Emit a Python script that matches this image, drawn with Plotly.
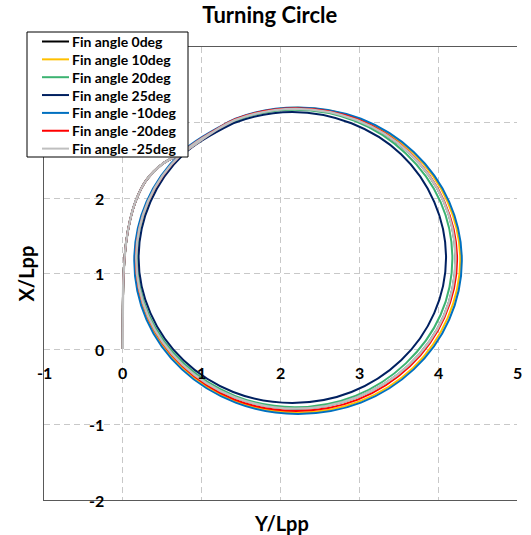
import plotly.graph_objects as go

# Shared initial (approach) path: Y/Lpp (horizontal), X/Lpp (vertical)
INIT_Y = [0.0, 0.0, 0.01, 0.04, 0.09, 0.17, 0.30, 0.50, 0.76]
INIT_X = [0.0, 0.5, 1.0, 1.40, 1.70, 1.98, 2.24, 2.45, 2.60]

# Loop points for each fin angle
FIN0_Y = [1.42, 2.195, 2.97, 3.63, 4.07, 4.22, 4.07, 3.63, 2.97, 2.195, 1.42, 0.76, 0.32, 0.17, 0.32, 0.76, 1.42]
FIN0_X = [3.03, 3.18, 3.03, 2.60, 1.955, 1.195, 0.435, -0.21, -0.64, -0.79, -0.64, -0.21, 0.435, 1.195, 1.955, 2.60, 3.03]

FIN10_Y = [1.43, 2.22, 3.01, 3.68, 4.12, 4.28, 4.12, 3.68, 3.01, 2.22, 1.43, 0.76, 0.31, 0.155, 0.31, 0.76, 1.43]
FIN10_X = [3.04, 3.195, 3.04, 2.60, 1.95, 1.18, 0.41, -0.25, -0.69, -0.84, -0.69, -0.25, 0.41, 1.18, 1.95, 2.60, 3.04]

FIN20_Y = [1.42, 2.18, 2.95, 3.59, 4.03, 4.18, 4.03, 3.59, 2.95, 2.18, 1.42, 0.77, 0.33, 0.18, 0.33, 0.77, 1.42]
FIN20_X = [3.02, 3.17, 3.02, 2.59, 1.95, 1.20, 0.45, -0.19, -0.62, -0.77, -0.62, -0.19, 0.45, 1.20, 1.95, 2.59, 3.02]

FIN25_Y = [1.40, 2.15, 2.90, 3.53, 3.95, 4.10, 3.95, 3.53, 2.90, 2.15, 1.40, 0.77, 0.35, 0.20, 0.35, 0.77, 1.40]
FIN25_X = [2.99, 3.14, 2.99, 2.58, 1.95, 1.21, 0.475, -0.15, -0.57, -0.715, -0.57, -0.15, 0.475, 1.21, 1.95, 2.58, 2.99]

FINM10_Y = [1.43, 2.22, 3.02, 3.69, 4.14, 4.30, 4.14, 3.69, 3.02, 2.22, 1.43, 0.75, 0.30, 0.145, 0.30, 0.75, 1.43]
FINM10_X = [3.05, 3.20, 3.05, 2.61, 1.95, 1.17, 0.39, -0.27, -0.71, -0.86, -0.71, -0.27, 0.39, 1.17, 1.95, 2.61, 3.05]

FINM20_Y = [1.42, 2.20, 2.98, 3.64, 4.08, 4.24, 4.08, 3.64, 2.98, 2.20, 1.42, 0.76, 0.32, 0.165, 0.32, 0.76, 1.42]
FINM20_X = [3.04, 3.19, 3.04, 2.60, 1.95, 1.185, 0.42, -0.23, -0.67, -0.82, -0.67, -0.23, 0.42, 1.185, 1.95, 2.60, 3.04]

FINM25_Y = [1.42, 2.195, 2.97, 3.63, 4.07, 4.22, 4.07, 3.63, 2.97, 2.195, 1.42, 0.76, 0.32, 0.17, 0.32, 0.76, 1.42]
FINM25_X = [3.03, 3.18, 3.03, 2.60, 1.955, 1.195, 0.435, -0.21, -0.64, -0.79, -0.64, -0.21, 0.435, 1.195, 1.955, 2.60, 3.03]

SERIES_NAMES = ["Fin angle 0deg", "Fin angle 10deg", "Fin angle 20deg", "Fin angle 25deg",
                "Fin angle -10deg", "Fin angle -20deg", "Fin angle -25deg"]
SERIES_Y = [FIN0_Y, FIN10_Y, FIN20_Y, FIN25_Y, FINM10_Y, FINM20_Y, FINM25_Y]
SERIES_X = [FIN0_X, FIN10_X, FIN20_X, FIN25_X, FINM10_X, FINM20_X, FINM25_X]
COLORS = ["#000000", "#FFC000", "#3CB371", "#002060", "#0070C0", "#FF0000", "#BFBFBF"]
WIDTHS = [2, 2, 2, 2, 2, 2, 2.4]

X_TICKS = [-1, 0, 1, 2, 3, 4, 5]
X_TICK_LABELS = ["-1", "0", "1", "2", "3", "4", "5"]
Y_TICKS = [-2, -1, 0, 1, 2]
Y_TICK_LABELS = ["-2", "-1", "0", "1", "2"]

FONT = "Lato, 'Open Sans', sans-serif"

W, H = 531, 535
ML, MR, MT, MB = 44, 14, 47, 35
PW, PH = W - ML - MR, H - MT - MB


def px(xp):
    return (xp - ML) / PW


def py(yp):
    return (H - MB - yp) / PH


fig = go.Figure()
for name, ys, xs, col, wd in zip(SERIES_NAMES, SERIES_Y, SERIES_X, COLORS, WIDTHS):
    fig.add_trace(go.Scatter(
        x=INIT_Y + ys, y=INIT_X + xs, mode="lines", name=name, showlegend=False,
        line=dict(color=col, width=wd, shape="spline", smoothing=1.0),
    ))

annotations = []
shapes = []
for v, t in zip(X_TICKS, X_TICK_LABELS):
    annotations.append(dict(x=v, y=-0.31, xref="x", yref="y", text=t, showarrow=False,
                            xanchor="center", yanchor="middle",
                            font=dict(family=FONT, size=16, color="#000000", weight="bold")))
for v, t in zip(Y_TICKS, Y_TICK_LABELS):
    annotations.append(dict(x=-0.21, y=v, xref="x", yref="y", text=t, showarrow=False,
                            xanchor="right", yanchor="middle",
                            font=dict(family=FONT, size=16, color="#000000", weight="bold")))
annotations.append(dict(x=0.503, y=-0.05, xref="paper", yref="paper", text="Y/Lpp", showarrow=False,
                        xanchor="center", yanchor="middle",
                        font=dict(family=FONT, size=20, color="#000000", weight="bold")))
annotations.append(dict(x=-0.04, y=0.5, xref="paper", yref="paper", text="X/Lpp", showarrow=False,
                        xanchor="center", yanchor="middle", textangle=-90,
                        font=dict(family=FONT, size=20, color="#000000", weight="bold")))

# Legend box drawn as shapes + text
shapes.append(dict(type="rect", xref="paper", yref="paper",
                   x0=px(27), x1=px(188), y0=py(157), y1=py(32),
                   line=dict(color="#000000", width=1), fillcolor="white", layer="above"))
for i, (name, col) in enumerate(zip(SERIES_NAMES, COLORS)):
    yp = 41.5 + i * 17.85
    shapes.append(dict(type="line", xref="paper", yref="paper",
                       x0=px(42), x1=px(69), y0=py(yp), y1=py(yp),
                       line=dict(color=col, width=2), layer="above"))
    annotations.append(dict(x=px(70), y=py(yp), xref="paper", yref="paper", text=name,
                            showarrow=False, xanchor="left", yanchor="middle",
                            font=dict(family=FONT, size=14, color="#000000", weight="bold")))

fig.update_layout(
    width=W, height=H,
    margin=dict(l=ML, r=MR, t=MT, b=MB),
    paper_bgcolor="white", plot_bgcolor="white",
    title=dict(text="Turning Circle", x=0.508, xref="container", xanchor="center",
               y=0.972, yref="container", yanchor="middle",
               font=dict(family=FONT, size=22, color="#000000", weight="bold")),
    xaxis=dict(range=[-1, 5], tickvals=X_TICKS, showticklabels=False, ticks="",
               showgrid=True, gridcolor="#C8C8C8", griddash="6px,4px", gridwidth=1,
               zeroline=False, showline=True, linecolor="#595959", linewidth=1, mirror=True),
    yaxis=dict(range=[-2, 4], tickvals=Y_TICKS + [3, 4], showticklabels=False, ticks="",
               showgrid=True, gridcolor="#C8C8C8", griddash="6px,4px", gridwidth=1,
               zeroline=False, showline=True, linecolor="#595959", linewidth=1),
    annotations=annotations,
    shapes=shapes,
    showlegend=False,
)

fig.write_html("out.html")
